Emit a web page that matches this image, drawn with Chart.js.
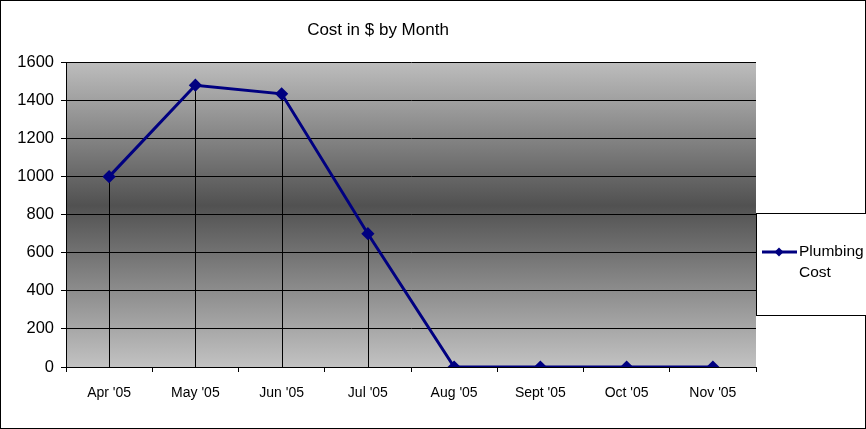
<!DOCTYPE html>
<html>
<head>
<meta charset="utf-8">
<script src="https://cdn.jsdelivr.net/npm/chart.js@4/dist/chart.umd.min.js"></script>
<style>
html,body{margin:0;padding:0;background:#fff;}
#wrap{position:relative;width:866px;height:429px;}
</style>
</head>
<body>
<div id="wrap"><canvas id="c"></canvas></div>
<script>
const categories = ["Apr '05","May '05","Jun '05","Jul '05","Aug '05","Sept '05","Oct '05","Nov '05"];
const plumbingCost = [1000, 1480, 1435, 700, 0, 0, 0, 0];
const seriesName = ["Plumbing", "Cost"];
const yMin = 0, yMax = 1600, yStep = 200;
const chartTitle = "Cost in $ by Month";

const FONT = "'Liberation Sans', Arial, sans-serif";

const bgPlugin = {
  id: 'bg',
  beforeDraw(chart) {
    const {ctx, chartArea: a, width, height} = chart;
    ctx.save();
    ctx.fillStyle = '#fff';
    ctx.fillRect(0, 0, width, height);
    const g = ctx.createLinearGradient(0, a.top, 0, a.bottom);
    g.addColorStop(0, '#bdbdbd');
    g.addColorStop(0.47, '#515151');
    g.addColorStop(1, '#c2c2c2');
    ctx.fillStyle = g;
    ctx.fillRect(a.left, a.top, a.right - a.left, a.bottom - a.top);
    ctx.restore();
  },
  afterDraw(chart) {
    const {ctx, width, height} = chart;
    ctx.save();
    ctx.strokeStyle = '#000';
    ctx.lineWidth = 1;
    ctx.strokeRect(0.5, 0.5, width - 1, height - 1);
    ctx.restore();
  }
};

const dropPlugin = {
  id: 'drops',
  beforeDatasetsDraw(chart) {
    const {ctx} = chart;
    const meta = chart.getDatasetMeta(0);
    const yScale = chart.scales.y;
    const base = yScale.getPixelForValue(yMin);
    ctx.save();
    ctx.strokeStyle = '#000';
    ctx.lineWidth = 1;
    meta.data.forEach(p => {
      const x = Math.round(p.x) + 0.5;
      ctx.beginPath();
      ctx.moveTo(x, p.y);
      ctx.lineTo(x, base);
      ctx.stroke();
    });
    ctx.restore();
  }
};

const legendPlugin = {
  id: 'customLegend',
  afterDraw(chart) {
    const {ctx} = chart;
    const a = chart.chartArea;
    const ds = chart.data.datasets[0];
    const left = a.right + 0.5, top = 213.5, w = 120, h = 102;
    ctx.save();
    ctx.strokeStyle = '#000';
    ctx.lineWidth = 1;
    ctx.fillStyle = '#fff';
    ctx.fillRect(left, top, w, h);
    ctx.strokeRect(left, top, w, h);
    const ly = 252;
    ctx.strokeStyle = ds.borderColor;
    ctx.lineWidth = 3;
    ctx.beginPath();
    ctx.moveTo(762, ly);
    ctx.lineTo(797, ly);
    ctx.stroke();
    ctx.fillStyle = ds.borderColor;
    ctx.beginPath();
    ctx.moveTo(779, ly - 4.5);
    ctx.lineTo(783.5, ly);
    ctx.lineTo(779, ly + 4.5);
    ctx.lineTo(774.5, ly);
    ctx.closePath();
    ctx.fill();
    ctx.fillStyle = '#000';
    ctx.font = "15.5px " + FONT;
    ctx.textBaseline = 'middle';
    ctx.textAlign = 'left';
    seriesName.forEach((t, i) => ctx.fillText(t, 799, ly + i * 21));
    ctx.restore();
  }
};

new Chart(document.getElementById('c'), {
  type: 'line',
  data: {
    labels: categories,
    datasets: [{
      label: seriesName.join(' '),
      data: plumbingCost,
      borderColor: '#000080',
      backgroundColor: '#000080',
      borderWidth: 3,
      pointStyle: 'rectRot',
      pointRadius: 4.5,
      pointHoverRadius: 4.5,
      tension: 0,
      fill: false
    }]
  },
  options: {
    responsive: true,
    maintainAspectRatio: false,
    animation: false,
    devicePixelRatio: 1,
    layout: { padding: { left: 0, right: 110, top: 0, bottom: 0 } },
    plugins: {
      legend: { display: false },
      tooltip: { enabled: false },
      title: {
        display: true,
        text: chartTitle,
        color: '#000',
        font: { family: FONT, size: 17, weight: 'normal', lineHeight: 1.2 },
        padding: { top: 20, bottom: 22 }
      }
    },
    scales: {
      x: {
        offset: true,
        grid: { display: true, offset: true, drawOnChartArea: false, drawTicks: true, tickLength: 5, color: '#000' },
        border: { display: true, color: '#000', width: 1 },
        ticks: { color: '#000', font: { family: FONT, size: 14 }, padding: 13, maxRotation: 0, autoSkip: false },
        afterFit(s) { s.height = 62; }
      },
      y: {
        min: yMin, max: yMax,
        grid: { color: '#000', lineWidth: 1, tickLength: 5, drawTicks: true },
        border: { display: true, color: '#000', width: 1 },
        ticks: { stepSize: yStep, color: '#000', font: { family: FONT, size: 16.5 }, padding: 7,
                 callback: v => String(v) },
        afterFit(s) { s.width = 66; }
      }
    }
  },
  plugins: [bgPlugin, dropPlugin, legendPlugin]
});
</script>
</body>
</html>
